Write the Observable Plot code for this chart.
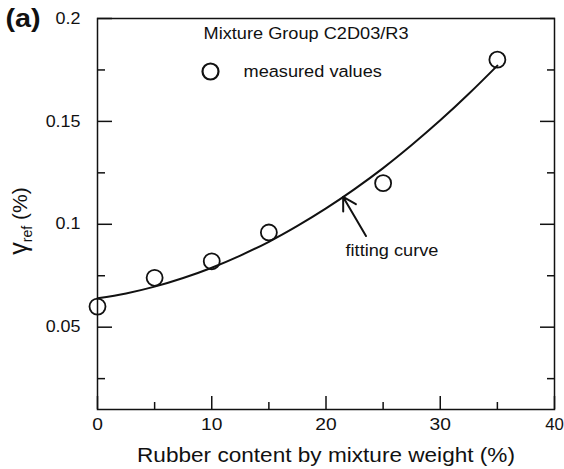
<!DOCTYPE html>
<html><head><meta charset="utf-8">
<script src="https://cdn.jsdelivr.net/npm/d3@7"></script>
<script src="https://cdn.jsdelivr.net/npm/@observablehq/plot@0.6"></script>
<style>body{margin:0;background:#fff}</style>
</head><body><div id="chart"></div>
<script>
// measured values
const rubber = [0, 5, 10, 15, 25, 35];
const gammaRef = [0.060, 0.074, 0.082, 0.096, 0.120, 0.180];
// fitting curve
const fitRubber = [0, 2.5, 5, 7.5, 10, 12.5, 15, 17.5, 20, 22.5, 25, 27.5, 30, 32.5, 35];
const fitGamma = [0.0640, 0.0664, 0.0697, 0.0739, 0.0789, 0.0848, 0.0915, 0.0992, 0.1077, 0.1171, 0.1273, 0.1385, 0.1505, 0.1634, 0.1771];
// ticks
const xMajorTicks = [0, 10, 20, 30, 40];
const xMinorTicks = [5, 15, 25, 35];
const xTickLabels = ["0", "10", "20", "30", "40"];
const yMajorTicks = [0.05, 0.1, 0.15, 0.2];
const yMinorTicks = [0.025, 0.075, 0.125, 0.175];
const yTickLabels = ["0.05", "0.1", "0.15", "0.2"];
// texts
const panelLabel = "(a)";
const groupTitle = "Mixture Group C2D03/R3";
const legendText = "measured values";
const annotationText = "fitting curve";
const xTitle = "Rubber content by mixture weight (%)";
const yTitleMain = "γ", yTitleSub = "ref", yTitleUnit = " (%)";
// annotation arrow (data coordinates)
const arrowStart = [23.5, 0.0943];
const arrowEnd = [21.5, 0.1133];

const points = rubber.map((x, i) => ({x, y: gammaRef[i]}));
const fit = fitRubber.map((x, i) => ({x, y: fitGamma[i]}));
const ink = "#111";

const chart = Plot.plot({
  width: 564, height: 469,
  marginLeft: 97, marginRight: 10, marginTop: 18, marginBottom: 60,
  style: {fontFamily: "'Liberation Sans', Arial, sans-serif", fontSize: "16px", background: "white", color: ink},
  x: {domain: [0, 40]},
  y: {domain: [0.01, 0.2]},
  marks: [
    Plot.frame({stroke: ink, strokeWidth: 1.5}),
    Plot.axisX(xMajorTicks, {tickSize: -13, tickFormat: () => "", label: null, stroke: ink, strokeWidth: 1.5}),
    Plot.axisX(xMinorTicks, {tickSize: -7, tickFormat: () => "", label: null, stroke: ink, strokeWidth: 1.5}),
    Plot.axisX(xMajorTicks, {tickSize: 0, tickPadding: 9, fontSize: 16, fill: ink, label: null, tickFormat: d => xTickLabels[xMajorTicks.indexOf(d)]}),
    Plot.axisY(yMajorTicks, {anchor: "left", tickSize: -15, tickFormat: () => "", label: null, stroke: ink, strokeWidth: 1.5}),
    Plot.axisY(yMinorTicks, {anchor: "left", tickSize: -8, tickFormat: () => "", label: null, stroke: ink, strokeWidth: 1.5}),
    Plot.axisY(yMajorTicks, {anchor: "right", tickSize: -15, tickFormat: () => "", label: null, stroke: ink, strokeWidth: 1.5}),
    Plot.axisY(yMinorTicks, {anchor: "right", tickSize: -8, tickFormat: () => "", label: null, stroke: ink, strokeWidth: 1.5}),
    Plot.axisY(yMajorTicks, {anchor: "left", tickSize: 0, tickPadding: 17, fontSize: 16, fill: ink, label: null, tickFormat: d => yTickLabels[yMajorTicks.indexOf(d)]}),
    Plot.line(fit, {x: "x", y: "y", stroke: ink, strokeWidth: 2, curve: "natural"}),
    Plot.dot(points, {x: "x", y: "y", r: 8, stroke: ink, strokeWidth: 1.8, fill: "none"}),
    Plot.arrow([0], {x1: () => arrowStart[0], y1: () => arrowStart[1], x2: () => arrowEnd[0], y2: () => arrowEnd[1], stroke: ink, strokeWidth: 2, headLength: 11}),
    Plot.text([annotationText], {text: d => d, frameAnchor: "top-left", dx: 248, dy: 232, textAnchor: "start", lineAnchor: "middle", fontSize: 17, fill: ink}),
    Plot.text([groupTitle], {text: d => d, frameAnchor: "top-left", dx: 106, dy: 15, textAnchor: "start", lineAnchor: "middle", fontSize: 17, fill: ink}),
    Plot.dot([0], {frameAnchor: "top-left", dx: 113, dy: 53, r: 8, stroke: ink, strokeWidth: 2.2, fill: "none"}),
    Plot.text([legendText], {text: d => d, frameAnchor: "top-left", dx: 146, dy: 53, textAnchor: "start", lineAnchor: "middle", fontSize: 17, fill: ink}),
    Plot.text([panelLabel], {text: d => d, frameAnchor: "top-left", dx: -92, dy: 0, textAnchor: "start", lineAnchor: "middle", fontSize: 25, fontWeight: "bold", fill: ink}),
    Plot.text([xTitle], {text: d => d, frameAnchor: "bottom", dy: 46, textAnchor: "middle", lineAnchor: "middle", fontSize: 20, fill: ink}),
    Plot.text([yTitleMain + yTitleSub + yTitleUnit], {text: d => d, frameAnchor: "left", dx: -77, dy: 7, rotate: -90, textAnchor: "middle", lineAnchor: "middle", fontSize: 21, fill: ink})
  ]
});
document.getElementById("chart").appendChild(chart);

// horizontal widening of text to match the reference's wide typeface
function stretch(t, s) {
  const b = t.getBBox();
  const anchor = getComputedStyle(t).textAnchor;
  const ax = anchor === "middle" ? b.x + b.width / 2 : anchor === "end" ? b.x + b.width : b.x;
  const tr = t.getAttribute("transform") || "";
  t.setAttribute("transform", `${tr} translate(${ax},0) scale(${s},1) translate(${-ax},0)`);
}
const svgNS = "http://www.w3.org/2000/svg";
chart.querySelectorAll("text").forEach(t => {
  const c = t.textContent;
  if (c === yTitleMain + yTitleSub + yTitleUnit) {
    t.textContent = "";
    const a = document.createElementNS(svgNS, "tspan"); a.textContent = yTitleMain; a.setAttribute("font-size", "25");
    const b = document.createElementNS(svgNS, "tspan"); b.textContent = yTitleSub; b.setAttribute("font-size", "14"); b.setAttribute("dy", "5");
    const u = document.createElementNS(svgNS, "tspan"); u.textContent = yTitleUnit; u.setAttribute("dy", "-5");
    t.append(a, b, u);
  } else if (xTickLabels.includes(c)) stretch(t, c === "40" ? 1.05 : 1.2);
  else if (yTickLabels.includes(c)) stretch(t, 1.12);
  else if (c === xTitle) stretch(t, 1.13);
  else if (c === panelLabel) stretch(t, 1.15);
  else if (c === groupTitle || c === legendText || c === annotationText) stretch(t, 1.07);
});
</script>
</body></html>
